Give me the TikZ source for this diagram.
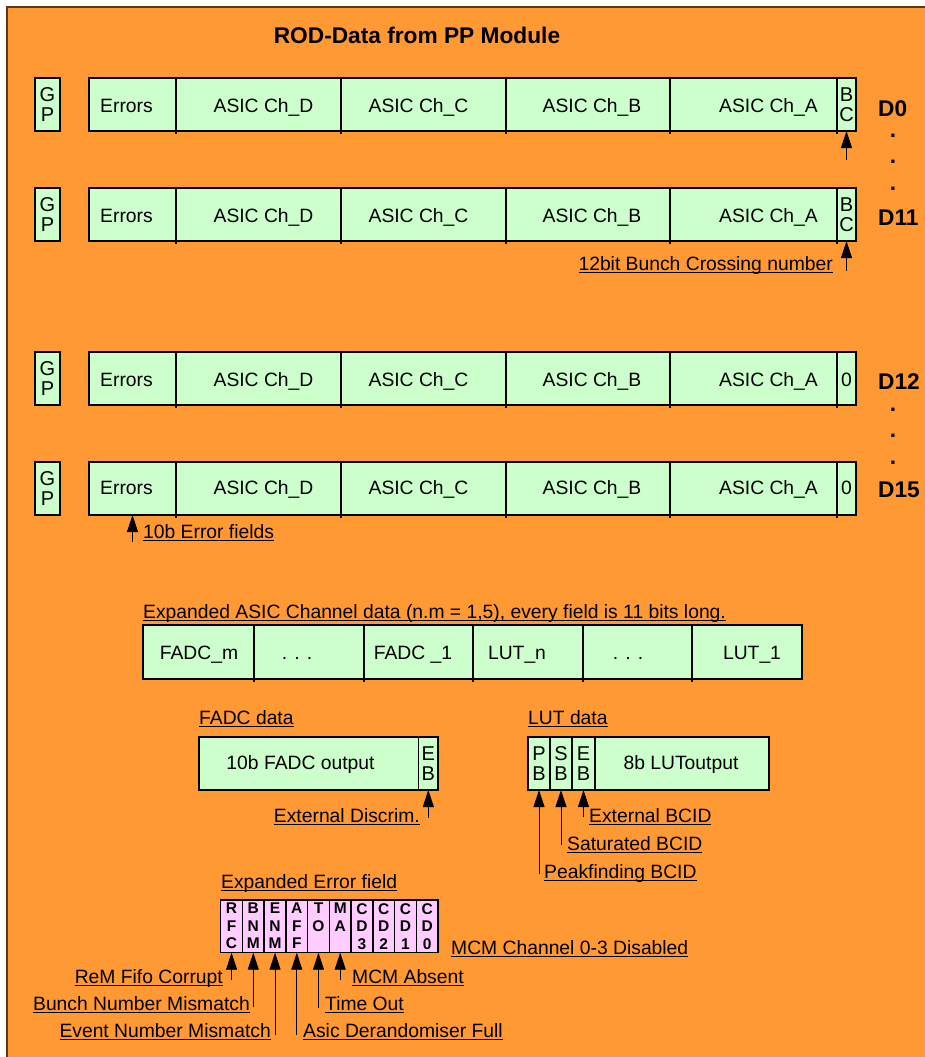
\documentclass[tikz,border=0pt]{standalone}
\usepackage{fontspec}
\setmainfont{Liberation Sans}
\usetikzlibrary{arrows.meta}
\definecolor{bgorange}{HTML}{FF9933}
\definecolor{cellgreen}{HTML}{CCFFCC}
\definecolor{cellpink}{HTML}{FFCCFF}
\definecolor{frameedge}{HTML}{5A3A1A}
\newcommand\myul[1]{\setbox0\hbox{#1}\rlap{\rule[-2.6pt]{\wd0}{1.1pt}}\box0}
\newcommand\rodrow[3]{%
  \node[cell, minimum width=25, minimum height=53] (#1gp) at (35,#2) {};
  \node[stack] (#1gpt) at (#1gp.center) {G\\P};
  \node[cell, minimum width=87, minimum height=53] (#1err) at (89,#2) {};
  \node[cell, minimum width=165, minimum height=53] (#1chd) at (176,#2) {};
  \node[cell, minimum width=165, minimum height=53] (#1chc) at (341,#2) {};
  \node[cell, minimum width=164, minimum height=53] (#1chb) at (506,#2) {};
  \node[cell, minimum width=167, minimum height=53] (#1cha) at (670,#2) {};
  \node[cell, minimum width=19, minimum height=53] (#1bc) at (837,#2) {};
  \node[body, anchor=base west] (#1errt) at (100,#3) {Errors};
  \node[body, anchor=base] (#1chdt) at (263.5,#3) {ASIC Ch\_D};
  \node[body, anchor=base] (#1chct) at (418.5,#3) {ASIC Ch\_C};
  \node[body, anchor=base] (#1chbt) at (592,#3) {ASIC Ch\_B};
  \node[body, anchor=base] (#1chat) at (768.5,#3) {ASIC Ch\_A};
  \foreach \c in {err,chd,chc,chb,cha} \draw[divtick] (#1\c.south east) -- ++(0,3);
}
\newcommand\errcell[3]{%
  \pgfmathsetmacro\errx{220.7+21.73*(#2)}
  \node[cell, fill=cellpink, minimum width=21.73, minimum height=52.7] (#1) at (\errx,900) {};
  \node[ebits] (#1t) at (#1.center |- 0,903) {#3};
}
\begin{document}
\begin{tikzpicture}[x=1pt,y=-1pt,
  cell/.style={draw=black, line width=1.5pt, fill=cellgreen, inner sep=0pt, outer sep=0pt, anchor=north west},
  body/.style={font=\fontsize{19.3}{22}\selectfont, inner sep=0pt},
  stack/.style={font=\fontsize{20}{20.5}\selectfont, align=center, inner sep=0pt},
  ebits/.style={font=\bfseries\fontsize{15.5}{17.5}\selectfont, align=center, inner sep=0pt, anchor=north},
  dlab/.style={font=\bfseries\fontsize{22.7}{26}\selectfont, inner sep=0pt, anchor=base west},
  vdot/.style={font=\bfseries\fontsize{22.7}{26}\selectfont, inner sep=0pt},
  ptr/.style={-{Triangle[width=11pt,length=17pt]}, line width=0.9pt},
  divtick/.style={line width=1.5pt}]
\useasboundingbox (0,0) rectangle (925,1057);
\fill[white] (0,0) rectangle (925,1057);
\fill[bgorange] (7,7) rectangle (930,1062);
\draw[frameedge, line width=1.6pt] (7,1062) -- (7,7) -- (930,7);

\node[font=\bfseries\fontsize{22.7}{26}\selectfont, inner sep=0pt, anchor=base] (title) at (417,44) {ROD-Data from PP Module};

% main rows
\rodrow{ra}{78}{112.5}
\node[stack] (rabct) at (rabc.center) {B\\C};
\rodrow{rb}{188}{222.5}
\node[stack] (rbbct) at (rbbc.center) {B\\C};
\rodrow{rc}{352}{386.5}
\node[body, anchor=base] (rcbct) at (846.5,386.5) {0};
\rodrow{rd}{462}{494.5}
\node[body, anchor=base] (rdbct) at (846.5,494.5) {0};

% D labels and dots
\node[dlab] (d0) at (878,116) {D0};
\node[dlab] (d11) at (878,225) {D11};
\node[dlab] (d12) at (878,389) {D12};
\node[dlab] (d15) at (878,497) {D15};
\node[vdot] (va1) at (893,136) {.};
\node[vdot] (va2) at (893,162) {.};
\node[vdot] (va3) at (893,189) {.};
\node[vdot] (vb1) at (893,410) {.};
\node[vdot] (vb2) at (893,436) {.};
\node[vdot] (vb3) at (893,463) {.};

% BC arrows
\coordinate (ta) at (rabc.south |- 0,160);
\draw[ptr] (ta) -- (rabc.south);
\coordinate (tb) at (rbbc.south |- 0,271);
\draw[ptr] (tb) -- (rbbc.south);
\node[body, anchor=base east] (lbc) at (833,270) {\myul{12bit Bunch Crossing number}};

% error field arrow
\coordinate (te) at (rderr.south |- 0,542);
\draw[ptr] (te) -- (rderr.south);
\node[body, anchor=base west] (lerr) at (143,538) {\myul{10b Error fields}};

% expanded ASIC channel data
\node[body, anchor=base west] (lasic) at (143,618) {\myul{Expanded ASIC Channel data (n.m = 1,5), every field is 11 bits long.}};
\node[cell, minimum width=111, minimum height=54] (xa1) at (143,625) {};
\node[cell, minimum width=110, minimum height=54] (xa2) at (254,625) {};
\node[cell, minimum width=109, minimum height=54] (xa3) at (364,625) {};
\node[cell, minimum width=110, minimum height=54] (xa4) at (473,625) {};
\node[cell, minimum width=109, minimum height=54] (xa5) at (583,625) {};
\node[cell, minimum width=110, minimum height=54] (xa6) at (692,625) {};
\foreach \c in {xa1,xa2,xa3,xa4,xa5} \draw[divtick] (\c.south east) -- ++(0,3);
\node[body, anchor=base] (xa1t) at (199,659) {FADC\_m};
\node[body, anchor=base] (xa2t) at (297,659) {. . .};
\node[body, anchor=base] (xa3t) at (413,659) {FADC \_1};
\node[body, anchor=base] (xa4t) at (517,659) {LUT\_n};
\node[body, anchor=base] (xa5t) at (628,659) {. . .};
\node[body, anchor=base] (xa6t) at (752,659) {LUT\_1};

% FADC data
\node[body, anchor=base west] (lfadc) at (199,724) {\myul{FADC data}};
\node[cell, minimum width=219.6, minimum height=53] (fout) at (199,737) {};
\node[cell, minimum width=19.4, minimum height=53] (feb) at (418.6,737) {};
\node[body, anchor=base] (foutt) at (300.5,769) {10b FADC output};
\node[stack] (febt) at (feb.center) {E\\B};
\coordinate (tfe) at (feb.south |- 0,818);
\draw[ptr] (tfe) -- (feb.south);
\node[body, anchor=base east] (lext) at (420,822) {\myul{External Discrim.}};

% LUT data
\node[body, anchor=base west] (llut) at (528,724) {\myul{LUT data}};
\node[cell, minimum width=22, minimum height=53] (lpb) at (528,737) {};
\node[cell, minimum width=22, minimum height=53] (lsb) at (550,737) {};
\node[cell, minimum width=23, minimum height=53] (leb) at (572,737) {};
\node[cell, minimum width=174, minimum height=53] (lout) at (595,737) {};
\node[stack] (lpbt) at (lpb.center) {P\\B};
\node[stack] (lsbt) at (lsb.center) {S\\B};
\node[stack] (lebt) at (leb.center) {E\\B};
\node[body, anchor=base] (loutt) at (681,769) {8b LUToutput};
\coordinate (tpb) at (lpb.south |- 0,874);
\coordinate (tsb) at (lsb.south |- 0,845);
\coordinate (teb) at (leb.south |- 0,817);
\draw[ptr] (tpb) -- (lpb.south);
\draw[ptr] (tsb) -- (lsb.south);
\draw[ptr] (teb) -- (leb.south);
\node[body, anchor=base west] (lebcid) at (589,822) {\myul{External BCID}};
\node[body, anchor=base west] (lsbcid) at (567,850) {\myul{Saturated BCID}};
\node[body, anchor=base west] (lpbcid) at (544,878) {\myul{Peakfinding BCID}};

% expanded error field
\node[body, anchor=base west] (lerrf) at (221,888) {\myul{Expanded Error field}};
\errcell{erfc}{0}{R\\F\\C}
\errcell{ebnm}{1}{B\\N\\M}
\errcell{eenm}{2}{E\\N\\M}
\errcell{eaff}{3}{A\\F\\F}
\errcell{eto}{4}{T\\O}
\errcell{ema}{5}{M\\A}
\errcell{ecd3}{6}{C\\D\\3}
\errcell{ecd2}{7}{C\\D\\2}
\errcell{ecd1}{8}{C\\D\\1}
\errcell{ecd0}{9}{C\\D\\0}
\node[body, anchor=base west] (lmcd) at (451,954) {\myul{MCM Channel 0-3 Disabled}};

\coordinate (trfc) at (erfc.south |- 0,980);
\coordinate (tbnm) at (ebnm.south |- 0,1007);
\coordinate (tenm) at (eenm.south |- 0,1035);
\coordinate (taff) at (eaff.south |- 0,1035);
\coordinate (tto) at (eto.south |- 0,1008);
\coordinate (tma) at (ema.south |- 0,980);
\foreach \c in {rfc,bnm,enm,aff,to,ma} \draw[ptr] (t\c) -- (e\c.south);
\node[body, anchor=base east] (lrfc) at (223,983) {\myul{ReM Fifo Corrupt}};
\node[body, anchor=base east] (lbnm) at (250,1010) {\myul{Bunch Number Mismatch}};
\node[body, anchor=base east] (lenm) at (271,1037) {\myul{Event Number Mismatch}};
\node[body, anchor=base west] (laff) at (303,1037) {\myul{Asic Derandomiser Full}};
\node[body, anchor=base west] (lto) at (325,1010) {\myul{Time Out}};
\node[body, anchor=base west] (lma) at (352,983) {\myul{MCM Absent}};
\end{tikzpicture}
\end{document}
